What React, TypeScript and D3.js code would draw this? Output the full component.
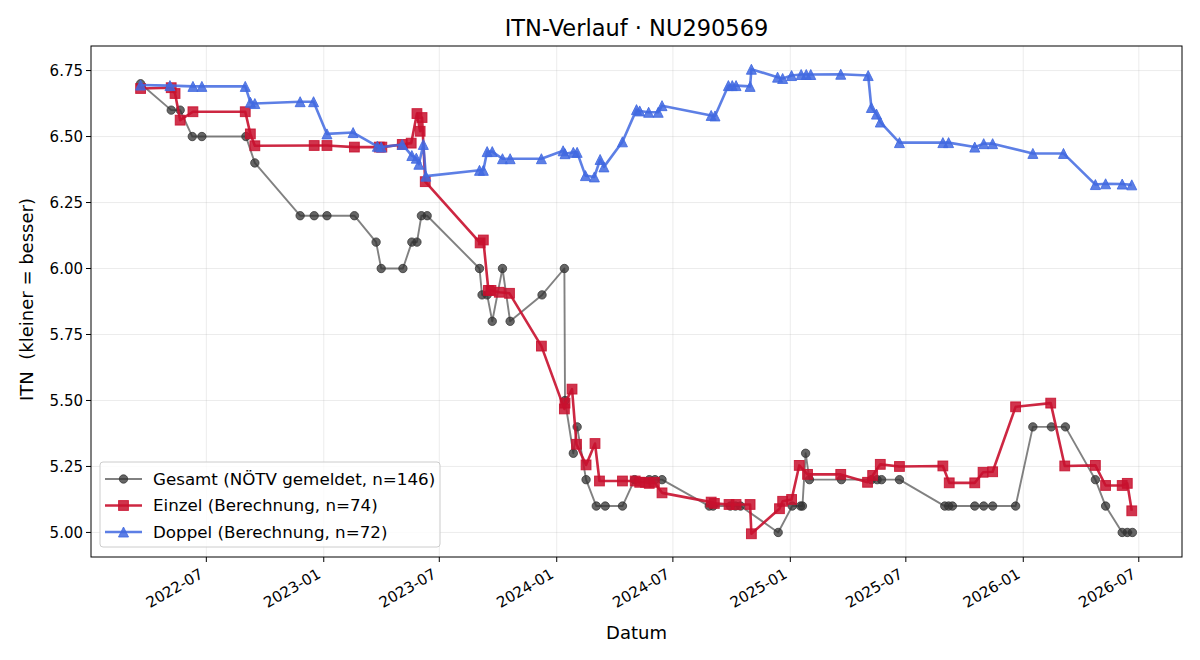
import React from "react";
import * as d3 from "d3";

// ITN history per match date: overall (reported), singles and doubles (calculated)
const gesamt: [string, number][] = [
  ["2022-03-20", 6.7], ["2022-05-07", 6.6], ["2022-05-21", 6.6], ["2022-06-09", 6.5],
  ["2022-06-24", 6.5], ["2022-09-01", 6.5], ["2022-09-15", 6.4], ["2022-11-25", 6.2],
  ["2022-12-17", 6.2], ["2023-01-06", 6.2], ["2023-02-18", 6.2], ["2023-03-24", 6.1],
  ["2023-04-01", 6.0], ["2023-05-05", 6.0], ["2023-05-19", 6.1], ["2023-05-27", 6.1],
  ["2023-06-03", 6.2], ["2023-06-12", 6.2], ["2023-09-02", 6.0], ["2023-09-06", 5.9],
  ["2023-09-14", 5.9], ["2023-09-22", 5.8], ["2023-10-08", 6.0], ["2023-10-20", 5.8],
  ["2023-12-09", 5.9], ["2024-01-13", 6.0], ["2024-01-14", 5.5], ["2024-01-27", 5.3],
  ["2024-02-02", 5.4], ["2024-02-16", 5.2], ["2024-03-03", 5.1], ["2024-03-17", 5.1],
  ["2024-04-13", 5.1], ["2024-05-02", 5.2], ["2024-05-25", 5.2], ["2024-06-03", 5.2],
  ["2024-06-14", 5.2], ["2024-08-27", 5.1], ["2024-09-02", 5.1], ["2024-09-29", 5.1],
  ["2024-10-07", 5.1], ["2024-10-15", 5.1], ["2024-12-13", 5.0], ["2025-01-04", 5.1],
  ["2025-01-17", 5.1], ["2025-01-20", 5.1], ["2025-01-25", 5.3], ["2025-01-31", 5.2],
  ["2025-03-22", 5.2], ["2025-05-08", 5.2], ["2025-05-17", 5.2], ["2025-05-24", 5.2],
  ["2025-06-21", 5.2], ["2025-08-31", 5.1], ["2025-09-06", 5.1], ["2025-09-12", 5.1],
  ["2025-10-17", 5.1], ["2025-10-31", 5.1], ["2025-11-14", 5.1], ["2025-12-20", 5.1],
  ["2026-01-16", 5.4], ["2026-02-14", 5.4], ["2026-03-08", 5.4], ["2026-04-24", 5.2],
  ["2026-05-10", 5.1], ["2026-06-05", 5.0], ["2026-06-13", 5.0], ["2026-06-21", 5.0],
];

const einzel: [string, number][] = [
  ["2022-03-20", 6.682], ["2022-05-07", 6.685], ["2022-05-13", 6.663], ["2022-05-21", 6.562],
  ["2022-06-10", 6.594], ["2022-08-31", 6.594], ["2022-09-08", 6.51], ["2022-09-15", 6.465],
  ["2022-12-17", 6.466], ["2023-01-06", 6.466], ["2023-02-18", 6.46], ["2023-03-29", 6.46],
  ["2023-04-02", 6.46], ["2023-05-04", 6.47], ["2023-05-18", 6.475], ["2023-05-27", 6.587],
  ["2023-06-01", 6.52], ["2023-06-04", 6.572], ["2023-06-09", 6.329], ["2023-09-03", 6.097],
  ["2023-09-08", 6.108], ["2023-09-16", 5.917], ["2023-09-20", 5.917], ["2023-10-03", 5.91],
  ["2023-10-19", 5.906], ["2023-12-08", 5.706], ["2024-01-13", 5.468], ["2024-01-14", 5.49],
  ["2024-01-25", 5.543], ["2024-02-01", 5.334], ["2024-02-16", 5.256], ["2024-03-01", 5.337],
  ["2024-03-08", 5.195], ["2024-04-13", 5.195], ["2024-05-03", 5.195], ["2024-05-10", 5.19],
  ["2024-05-19", 5.19], ["2024-05-25", 5.186], ["2024-06-02", 5.19], ["2024-06-14", 5.15],
  ["2024-08-30", 5.115], ["2024-09-04", 5.11], ["2024-09-27", 5.106], ["2024-10-08", 5.106],
  ["2024-10-30", 5.106], ["2024-11-01", 4.995], ["2024-12-15", 5.09], ["2024-12-20", 5.118],
  ["2025-01-03", 5.125], ["2025-01-15", 5.254], ["2025-01-28", 5.22], ["2025-03-21", 5.22],
  ["2025-05-02", 5.19], ["2025-05-10", 5.216], ["2025-05-22", 5.258], ["2025-06-21", 5.25],
  ["2025-08-28", 5.252], ["2025-09-07", 5.188], ["2025-10-17", 5.188], ["2025-10-30", 5.228],
  ["2025-11-14", 5.23], ["2025-12-20", 5.476], ["2026-02-13", 5.49], ["2026-03-07", 5.252],
  ["2026-04-24", 5.254], ["2026-05-10", 5.178], ["2026-06-05", 5.178], ["2026-06-13", 5.186],
  ["2026-06-20", 5.082],
];

const doppel: [string, number][] = [
  ["2022-03-20", 6.695], ["2022-05-05", 6.693], ["2022-06-10", 6.69], ["2022-06-24", 6.69],
  ["2022-08-31", 6.69], ["2022-09-08", 6.63], ["2022-09-15", 6.625], ["2022-11-25", 6.632],
  ["2022-12-16", 6.632], ["2023-01-06", 6.51], ["2023-02-16", 6.515], ["2023-03-26", 6.463],
  ["2023-04-01", 6.46], ["2023-05-04", 6.47], ["2023-05-19", 6.428], ["2023-05-26", 6.418],
  ["2023-05-30", 6.395], ["2023-06-06", 6.47], ["2023-06-10", 6.35], ["2023-09-02", 6.372],
  ["2023-09-08", 6.372], ["2023-09-14", 6.443], ["2023-09-22", 6.443], ["2023-10-08", 6.416],
  ["2023-10-20", 6.416], ["2023-12-08", 6.416], ["2024-01-11", 6.446], ["2024-01-14", 6.435],
  ["2024-01-27", 6.44], ["2024-02-02", 6.44], ["2024-02-15", 6.352], ["2024-02-29", 6.347],
  ["2024-03-09", 6.413], ["2024-03-15", 6.385], ["2024-04-13", 6.48], ["2024-05-05", 6.602],
  ["2024-05-10", 6.597], ["2024-05-24", 6.592], ["2024-06-08", 6.592], ["2024-06-14", 6.617],
  ["2024-08-30", 6.58], ["2024-09-05", 6.578], ["2024-09-26", 6.693], ["2024-10-02", 6.693],
  ["2024-10-08", 6.693], ["2024-10-30", 6.69], ["2024-11-01", 6.755], ["2024-12-12", 6.725],
  ["2024-12-20", 6.72], ["2025-01-03", 6.731], ["2025-01-18", 6.735], ["2025-01-26", 6.735],
  ["2025-02-02", 6.735], ["2025-03-21", 6.736], ["2025-05-03", 6.731], ["2025-05-08", 6.61],
  ["2025-05-16", 6.585], ["2025-05-22", 6.555], ["2025-06-21", 6.477], ["2025-08-28", 6.477],
  ["2025-09-06", 6.477], ["2025-10-17", 6.46], ["2025-10-31", 6.473], ["2025-11-14", 6.473],
  ["2026-01-16", 6.436], ["2026-03-05", 6.436], ["2026-04-24", 6.318], ["2026-05-10", 6.321],
  ["2026-06-05", 6.32], ["2026-06-20", 6.317],
];

const seriesLabels = [
  "Gesamt (NÖTV gemeldet, n=146)",
  "Einzel (Berechnung, n=74)",
  "Doppel (Berechnung, n=72)",
];
const yTicks = [5.0, 5.25, 5.5, 5.75, 6.0, 6.25, 6.5, 6.75];
const xTickLabels = ["2022-07", "2023-01", "2023-07", "2024-01", "2024-07", "2025-01", "2025-07", "2026-01", "2026-07"];

const W = 1200;
const H = 660;
const M = { left: 91, right: 1182, top: 46, bottom: 557 };
const FONT = "DejaVu Sans, sans-serif";
const TICK_FS = 15;
const LABEL_FS = 18;
const LEGEND_FS = 16.7;
const TITLE_FS = 22.5;

const parse = d3.timeParse("%Y-%m-%d");
const parseMonth = d3.timeParse("%Y-%m");

type Pt = { date: Date; value: number };
const toPts = (rows: [string, number][]): Pt[] => rows.map(([d, v]) => ({ date: parse(d)!, value: v }));

const styles = [
  { color: "#333333", lineOp: 0.62, markOp: 0.75, width: 1.9, marker: "circle" },
  { color: "#c8102e", lineOp: 0.9, markOp: 0.85, width: 2.6, marker: "square" },
  { color: "#4169e1", lineOp: 0.85, markOp: 0.85, width: 2.6, marker: "triangle" },
];

const Marker = ({ x, y, kind, color, op }: { x: number; y: number; kind: string; color: string; op: number }) => {
  const common = { fill: color, fillOpacity: op, stroke: color, strokeOpacity: op, strokeWidth: 1 };
  if (kind === "circle") return <circle cx={x} cy={y} r={4.2} {...common} />;
  if (kind === "square") return <rect x={x - 4.9} y={y - 4.9} width={9.8} height={9.8} {...common} />;
  const s = 5;
  return <path d={`M${x},${y - s}L${x - s},${y + s}L${x + s},${y + s}Z`} {...common} />;
};

export default function App() {
  const data = [toPts(gesamt), toPts(einzel), toPts(doppel)];
  const all = data.flat();

  const [d0, d1] = d3.extent(all, (d) => +d.date) as [number, number];
  const dPad = (d1 - d0) * 0.05;
  const x = d3.scaleTime().domain([new Date(d0 - dPad), new Date(d1 + dPad)]).range([M.left, M.right]);

  const [v0, v1] = d3.extent(all, (d) => d.value) as [number, number];
  const vPad = (v1 - v0) * 0.05;
  const y = d3.scaleLinear().domain([v0 - vPad, v1 + vPad]).range([M.bottom, M.top]);

  const line = d3.line<Pt>().x((d) => x(d.date)).y((d) => y(d.value));

  const xTicks = xTickLabels.map((t) => ({ label: t, pos: x(parseMonth(t)!) }));

  return (
    <svg width={W} height={H} style={{ position: "absolute", left: 0, top: 0, background: "#fff" }} fontFamily={FONT}>
      <rect width={W} height={H} fill="#fff" />
      {/* grid */}
      <g stroke="#b0b0b0" strokeOpacity={0.3} strokeWidth={0.8}>
        {xTicks.map((t) => (
          <line key={t.label} x1={t.pos} x2={t.pos} y1={M.top} y2={M.bottom} />
        ))}
        {yTicks.map((v) => (
          <line key={v} x1={M.left} x2={M.right} y1={y(v)} y2={y(v)} />
        ))}
      </g>

      {/* series: overall first, doubles on top */}
      {data.map((pts, i) => {
        const st = styles[i];
        return (
          <g key={i}>
            <path d={line(pts)!} fill="none" stroke={st.color} strokeOpacity={st.lineOp} strokeWidth={st.width} strokeLinejoin="round" />
            {pts.map((p, j) => (
              <Marker key={j} x={x(p.date)} y={y(p.value)} kind={st.marker} color={st.color} op={st.markOp} />
            ))}
          </g>
        );
      })}

      {/* frame */}
      <rect x={M.left} y={M.top} width={M.right - M.left} height={M.bottom - M.top} fill="none" stroke="#000" strokeWidth={1} />

      {/* x axis */}
      {xTicks.map((t) => (
        <g key={t.label}>
          <line x1={t.pos} x2={t.pos} y1={M.bottom} y2={M.bottom + 5} stroke="#000" />
          <text
            x={t.pos - 2}
            y={M.bottom + 20}
            fontSize={TICK_FS}
            textAnchor="end"
            transform={`rotate(-30 ${t.pos - 2} ${M.bottom + 20})`}
          >
            {t.label}
          </text>
        </g>
      ))}
      <text x={(M.left + M.right) / 2} y={639} fontSize={LABEL_FS} textAnchor="middle">Datum</text>

      {/* y axis */}
      {yTicks.map((v) => (
        <g key={v}>
          <line x1={M.left - 5} x2={M.left} y1={y(v)} y2={y(v)} stroke="#000" />
          <text x={M.left - 8} y={y(v)} dy="0.35em" fontSize={TICK_FS} textAnchor="end">{v.toFixed(2)}</text>
        </g>
      ))}
      <text
        transform={`translate(33 ${(M.top + M.bottom) / 2 - 2}) rotate(-90)`}
        fontSize={LABEL_FS}
        textAnchor="middle"
        style={{ whiteSpace: "pre" }}
      >
        {"ITN  (kleiner = besser)"}
      </text>

      <text x={(M.left + M.right) / 2} y={36} fontSize={TITLE_FS} textAnchor="middle">ITN-Verlauf · NU290569</text>

      {/* legend */}
      <g>
        <rect x={100} y={462} width={340} height={85} rx={3} fill="#fff" fillOpacity={0.8} stroke="#cccccc" />
        {seriesLabels.map((lab, i) => {
          const st = styles[i];
          const cy = 479 + i * 26.5;
          return (
            <g key={lab}>
              <line x1={105} x2={142} y1={cy} y2={cy} stroke={st.color} strokeOpacity={st.lineOp} strokeWidth={st.width} />
              <Marker x={123.5} y={cy} kind={st.marker} color={st.color} op={st.markOp} />
              <text x={153} y={cy} dy="0.35em" fontSize={LEGEND_FS}>{lab}</text>
            </g>
          );
        })}
      </g>
    </svg>
  );
}
